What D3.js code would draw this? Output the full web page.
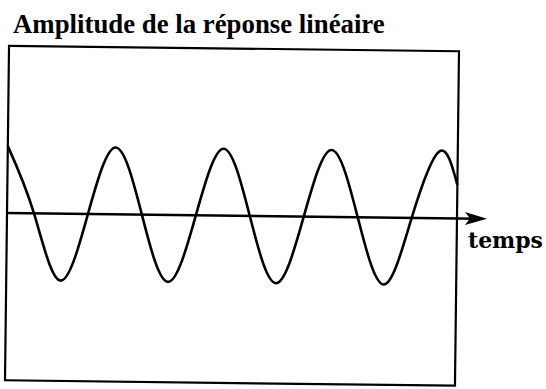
<!DOCTYPE html>
<html>
<head>
<meta charset="utf-8">
<script src="https://cdn.jsdelivr.net/npm/d3@7"></script>
<style>
  html, body { margin: 0; padding: 0; background: #fff; }
  svg { display: block; }
</style>
</head>
<body>
<svg id="chart" width="546" height="389"></svg>
<script>
// Data (time in periods, amplitude in arbitrary units)
const time      = [0, 0.25, 0.5, 0.75, 1, 1.25, 1.5, 1.75, 2, 2.25, 2.5, 2.75, 3, 3.25, 3.5, 3.75, 4, 4.17];
const amplitude = [1, 0, -1, 0, 1, 0, -1, 0, 1, 0, -1, 0, 1, 0, -1, 0, 1, 0.5];
const timeDomain = [0, 4.17];
const ampDomain = [-2.5, 2.5];
const titleText = "Amplitude de la réponse linéaire";
const axisLabel = "temps";

const svg = d3.select("#chart");
const x = d3.scaleLinear().domain(timeDomain).range([7, 457]);
const y = d3.scaleLinear().domain(ampDomain).range([383, 48.5]);

const cx = (x.range()[0] + x.range()[1]) / 2 + 0;
const cy = y(0);
const plot = svg.append("g").attr("transform", `rotate(0.69, ${cx}, ${cy})`);

// frame
plot.append("rect")
  .attr("x", x(timeDomain[0])).attr("y", y(ampDomain[1]))
  .attr("width", x(timeDomain[1]) - x(timeDomain[0]))
  .attr("height", y(ampDomain[0]) - y(ampDomain[1]))
  .attr("fill", "none").attr("stroke", "#000").attr("stroke-width", 2.2);

// time axis with arrow
const tipX = 487;
plot.append("line")
  .attr("x1", x(timeDomain[0])).attr("x2", tipX - 8)
  .attr("y1", y(0)).attr("y2", y(0))
  .attr("stroke", "#000").attr("stroke-width", 2.6);
plot.append("path")
  .attr("d", `M${tipX},${y(0)} L${tipX - 22},${y(0) - 6.5} L${tipX - 17},${y(0)} L${tipX - 22},${y(0) + 6.5} Z`)
  .attr("fill", "#000");

// signal
const data = time.map((t, i) => [t, amplitude[i]]);
plot.append("path")
  .datum(data)
  .attr("d", d3.line().x(d => x(d[0])).y(d => y(d[1])).curve(d3.curveNatural))
  .attr("fill", "none").attr("stroke", "#000").attr("stroke-width", 2.6)
  .attr("stroke-linejoin", "round");

// title
const title = svg.append("text")
  .attr("x", 13).attr("y", 33)
  .attr("font-family", "'Liberation Serif', 'Times New Roman', serif")
  .attr("font-weight", "bold").attr("font-size", 24)
  .attr("fill", "#000")
  .text(titleText);
const tw = title.node().getComputedTextLength();
title.attr("font-size", 24 * 372 / tw);

// axis label
const lab = svg.append("text")
  .attr("x", 468).attr("y", 248)
  .attr("font-family", "'DejaVu Serif', serif")
  .attr("font-weight", "bold").attr("font-size", 20)
  .attr("fill", "#000")
  .text(axisLabel);
const lw = lab.node().getComputedTextLength();
lab.attr("font-size", 20 * 75 / lw);
</script>
</body>
</html>
